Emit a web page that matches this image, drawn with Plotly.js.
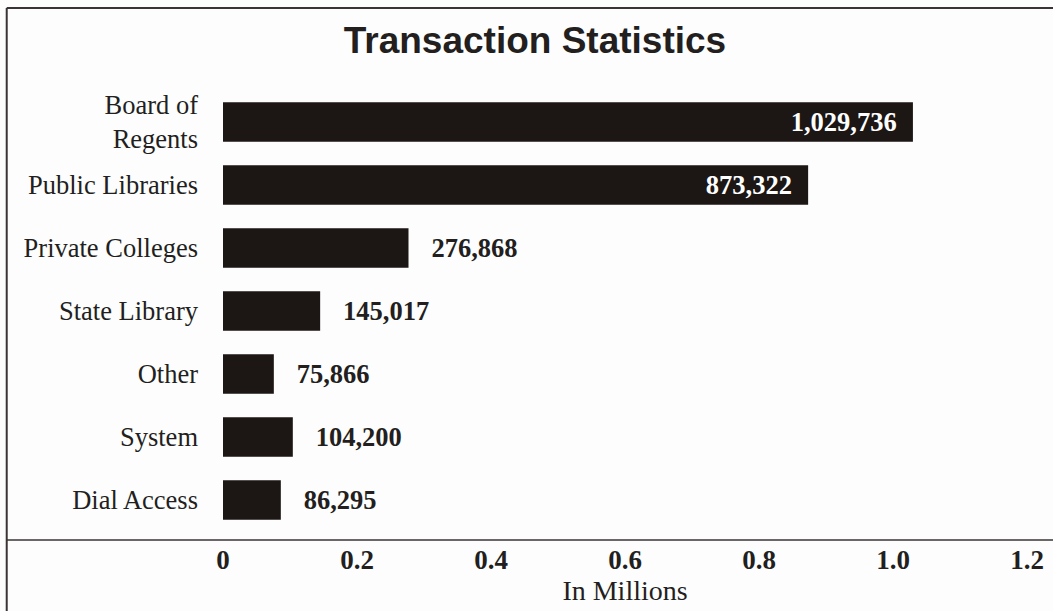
<!DOCTYPE html>
<html>
<head>
<meta charset="utf-8">
<script src="https://cdn.plot.ly/plotly-3.0.1.min.js"></script>
<style>
  html, body { margin: 0; padding: 0; background: #fdfdfd; }
  #chart { width: 1053px; height: 611px; }
</style>
</head>
<body>
<div id="chart"></div>
<script>
// ---- data ----
var categories = ["Board of<br>Regents", "Public Libraries", "Private Colleges", "State Library", "Other", "System", "Dial Access"];
var transactions = [1029736, 873322, 276868, 145017, 75866, 104200, 86295];
var tickValues = [0, 0.2, 0.4, 0.6, 0.8, 1.0, 1.2];
var tickLabels = ["0", "0.2", "0.4", "0.6", "0.8", "1.0", "1.2"];
var chartTitle = "Transaction Statistics";
var xAxisTitle = "In Millions";

// ---- derived ----
var xMillions = transactions.map(function (v) { return v / 1e6; });
var labels = transactions.map(function (v) { return v.toLocaleString("en-US"); });
var positions = xMillions.map(function (v) { return v > 0.5 ? "inside" : "outside"; });
var shownText = labels.map(function (t, i) {
  return positions[i] === "inside" ? t + "\u00a0\u00a0" : "\u00a0\u00a0\u00a0" + t;
});

var serif = "Liberation Serif, Times New Roman, serif";

var trace = {
  type: "bar",
  orientation: "h",
  x: xMillions,
  y: categories,
  width: 0.63,
  marker: { color: "#1c1614", line: { width: 0 } },
  text: shownText,
  textposition: positions,
  insidetextanchor: "end",
  constraintext: "none",
  cliponaxis: false,
  insidetextfont: { family: serif, size: 26.5, color: "#ffffff", weight: "bold" },
  outsidetextfont: { family: serif, size: 26.5, color: "#231f1e", weight: "bold" },
  hoverinfo: "none"
};

var layout = {
  width: 1053,
  height: 611,
  paper_bgcolor: "#fdfdfd",
  plot_bgcolor: "#fdfdfd",
  margin: { l: 223, r: 26, t: 85, b: 71 },
  showlegend: false,
  title: {
    text: "<b>" + chartTitle + "</b>",
    font: { family: "Liberation Sans, Arial, sans-serif", size: 37, color: "#231f1e" },
    x: 0.508, xanchor: "center",
    y: 0.935, yanchor: "middle",
    xref: "container", yref: "container"
  },
  xaxis: {
    range: [0, 1.2],
    tickmode: "array",
    tickvals: tickValues,
    ticktext: tickLabels,
    tickfont: { family: serif, size: 27, color: "#231f1e", weight: "bold" },
    showgrid: false,
    zeroline: false,
    showline: false,
    ticks: "",
    ticklabelstandoff: 1,
    title: { text: xAxisTitle, font: { family: serif, size: 28, color: "#231f1e" }, standoff: 0 }
  },
  yaxis: {
    type: "category",
    categoryorder: "array",
    categoryarray: categories,
    range: [6.635, -0.587],
    tickfont: { family: serif, size: 26.5, color: "#231f1e" },
    showgrid: false,
    zeroline: false,
    showline: false,
    ticks: "",
    ticklabelstandoff: 24
  },
  shapes: [
    { type: "line", xref: "paper", yref: "paper", x0: -0.269, x1: 1.05, y0: 0, y1: 0,
      line: { color: "#3a3534", width: 1.5 } },
    { type: "line", xref: "paper", yref: "paper", x0: -0.269, x1: -0.269, y0: -0.3, y1: 1.169,
      line: { color: "#3a3534", width: 2 } },
    { type: "line", xref: "paper", yref: "paper", x0: -0.269, x1: 1.05, y0: 1.169, y1: 1.169,
      line: { color: "#3a3534", width: 2 } }
  ]
};

Plotly.newPlot("chart", [trace], layout, { displayModeBar: false, staticPlot: true });
</script>
</body>
</html>
